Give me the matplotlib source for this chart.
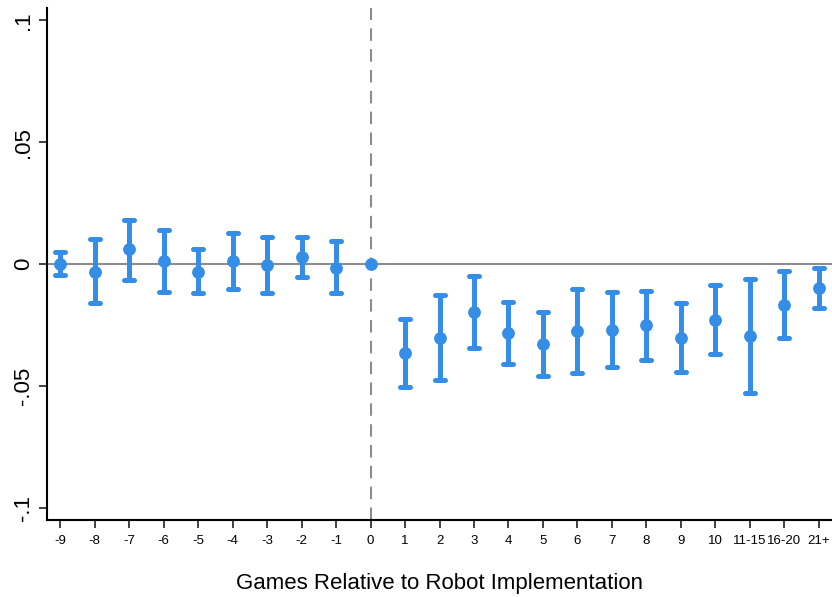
import matplotlib
matplotlib.use("Agg")
import matplotlib.pyplot as plt
import numpy as np

# Event-study estimates by game relative to robot implementation
labels = ["-9", "-8", "-7", "-6", "-5", "-4", "-3", "-2", "-1", "0",
          "1", "2", "3", "4", "5", "6", "7", "8", "9", "10",
          "11-15", "16-20", "21+"]
coef = [0.0000, -0.0032, 0.0060, 0.0012, -0.0032, 0.0012, -0.0004, 0.0028, -0.0015, 0.0000,
        -0.0365, -0.0302, -0.0196, -0.0284, -0.0327, -0.0276, -0.0269, -0.0251, -0.0302, -0.0230,
        -0.0294, -0.0167, -0.0097]
ci_hi = [0.0050, 0.0101, 0.0181, 0.0140, 0.0060, 0.0129, 0.0112, 0.0112, 0.0096, 0.0000,
         -0.0224, -0.0129, -0.0051, -0.0155, -0.0195, -0.0103, -0.0114, -0.0110, -0.0160, -0.0086,
         -0.0060, -0.0030, -0.0015]
ci_lo = [-0.0044, -0.0159, -0.0064, -0.0115, -0.0117, -0.0104, -0.0117, -0.0055, -0.0121, 0.0000,
         -0.0506, -0.0476, -0.0343, -0.0412, -0.0460, -0.0449, -0.0424, -0.0392, -0.0442, -0.0370,
         -0.0528, -0.0305, -0.0180]
yticks = [-0.1, -0.05, 0, 0.05, 0.1]
ytick_labels = ["-.1", "-.05", "0", ".05", ".1"]

blue = "#348de6"
grey = "#8c8c8c"

plt.rcParams["font.family"] = ["Liberation Sans", "DejaVu Sans"]

fig = plt.figure(figsize=(8.32, 5.97), dpi=100)
ax = fig.add_axes([0.0565, 0.129, 0.9435, 0.8576])

x = np.arange(len(labels)) - 9
coef = np.array(coef)
ci_hi = np.array(ci_hi)
ci_lo = np.array(ci_lo)
has_ci = ci_hi != ci_lo

ax.axhline(0, color=grey, lw=1.5, zorder=1)
ax.axvline(0, color=grey, lw=1.5, ls=(0, (6, 4)), zorder=1)

bar_lw = 3.6
cap_half = 0.145
ax.vlines(x[has_ci], ci_lo[has_ci], ci_hi[has_ci], color=blue, lw=bar_lw, zorder=3)
hl_top = ax.hlines(ci_hi[has_ci], x[has_ci] - cap_half, x[has_ci] + cap_half,
                   color=blue, lw=bar_lw, zorder=3)
hl_bot = ax.hlines(ci_lo[has_ci], x[has_ci] - cap_half, x[has_ci] + cap_half,
                   color=blue, lw=bar_lw, zorder=3)
for coll in (hl_top, hl_bot):
    coll.set_capstyle("round")
ax.plot(x, coef, "o", color=blue, ms=9.2, zorder=4, markeredgewidth=0)

ax.set_xlim(-9.38, 13.38)
ax.set_ylim(-0.105, 0.105)
ax.set_xticks(x)
ax.set_xticklabels(labels, fontsize=9.5)
ax.set_yticks(yticks)
ax.set_yticklabels(ytick_labels, fontsize=16)
plt.setp(ax.get_yticklabels(), rotation=90, va="center")

for side in ("top", "right"):
    ax.spines[side].set_visible(False)
for side in ("left", "bottom"):
    ax.spines[side].set_linewidth(1.5)
ax.tick_params(axis="both", length=5.5, width=1.2, color="#222222")
ax.tick_params(axis="y", pad=4)
ax.tick_params(axis="x", pad=5)

ax.set_xlabel("Games Relative to Robot Implementation", fontsize=16, labelpad=19)

fig.savefig("out.png", dpi=100)
